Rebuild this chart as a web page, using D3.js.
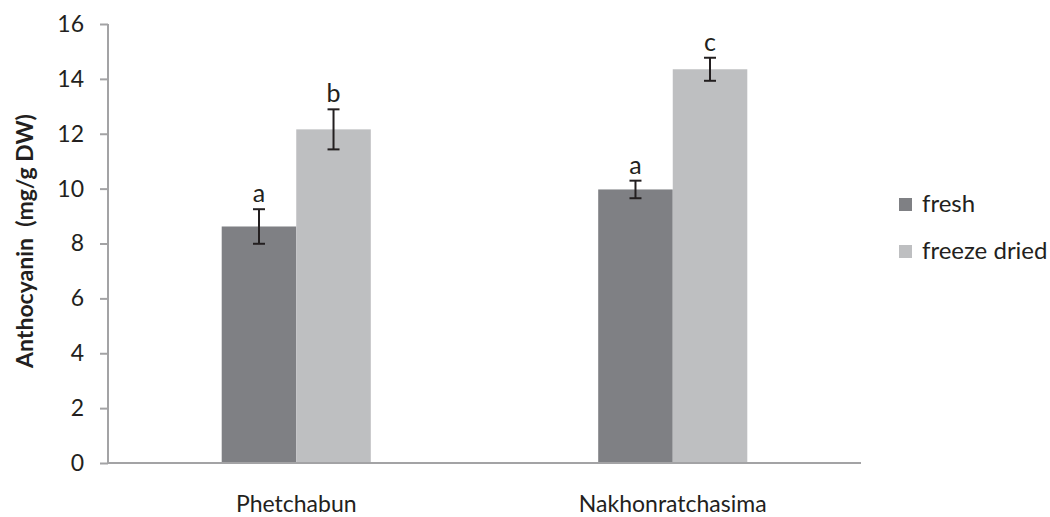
<!DOCTYPE html>
<html>
<head>
<meta charset="utf-8">
<script src="https://cdn.jsdelivr.net/npm/d3@7"></script>
<style>
  html, body { margin: 0; padding: 0; background: #fff; }
  svg { display: block; font-family: Lato, "Open Sans", sans-serif; }
</style>
</head>
<body>
<svg id="chart" width="1050" height="517"></svg>
<script>
// Anthocyanin content by province and sample treatment
const categories = ["Phetchabun", "Nakhonratchasima"];
const seriesNames = ["fresh", "freeze dried"];
const freshValues = [8.62, 9.97];
const freshErrors = [0.63, 0.32];
const freezeDriedValues = [12.16, 14.35];
const freezeDriedErrors = [0.73, 0.42];
const freshLetters = ["a", "a"];
const freezeDriedLetters = ["b", "c"];
const yTicks = [0, 2, 4, 6, 8, 10, 12, 14, 16];

const colors = { "fresh": "#7f8084", "freeze dried": "#bebfc1" };
const ink = "#231f20";
const axisGrey = "#a3a3a5";

const rows = [];
categories.forEach((c, i) => {
  rows.push({ cat: c, series: "fresh", value: freshValues[i], err: freshErrors[i], letter: freshLetters[i] });
  rows.push({ cat: c, series: "freeze dried", value: freezeDriedValues[i], err: freezeDriedErrors[i], letter: freezeDriedLetters[i] });
});

const svg = d3.select("#chart");
const plot = { left: 108, right: 861, top: 24, bottom: 463 };

const y = d3.scaleLinear().domain([0, 16]).range([plot.bottom, plot.top]);
const x0 = d3.scaleBand().domain(categories).range([plot.left, plot.right])
  .paddingInner(0.604).paddingOuter(0.302);
const x1 = d3.scaleBand().domain(seriesNames).range([0, x0.bandwidth()]);

// bars
svg.append("g").selectAll("rect").data(rows).join("rect")
  .attr("x", d => x0(d.cat) + x1(d.series))
  .attr("y", d => y(d.value))
  .attr("width", x1.bandwidth())
  .attr("height", d => y(0) - y(d.value))
  .attr("fill", d => colors[d.series]);

// error bars
const eb = svg.append("g").attr("stroke", ink).attr("stroke-width", 2);
rows.forEach(d => {
  const cx = x0(d.cat) + x1(d.series) + x1.bandwidth() / 2;
  eb.append("line").attr("x1", cx).attr("x2", cx).attr("y1", y(d.value + d.err)).attr("y2", y(d.value - d.err));
  eb.append("line").attr("x1", cx - 6).attr("x2", cx + 6).attr("y1", y(d.value + d.err)).attr("y2", y(d.value + d.err));
  eb.append("line").attr("x1", cx - 6).attr("x2", cx + 6).attr("y1", y(d.value - d.err)).attr("y2", y(d.value - d.err));
});

// significance letters
svg.append("g").selectAll("text").data(rows).join("text")
  .attr("x", d => x0(d.cat) + x1(d.series) + x1.bandwidth() / 2)
  .attr("y", d => y(d.value + d.err) - 7)
  .attr("text-anchor", "middle")
  .attr("font-size", 25)
  .attr("fill", ink)
  .text(d => d.letter);

// y axis
const yAxis = svg.append("g").attr("transform", `translate(${plot.left},0)`)
  .call(d3.axisLeft(y).tickValues(yTicks).tickSize(8).tickPadding(16).tickFormat(d3.format("d")));
yAxis.select(".domain").attr("stroke", axisGrey).attr("stroke-width", 2).attr("d", `M0,${plot.top}V${plot.bottom}`);
yAxis.selectAll(".tick line").attr("stroke", axisGrey).attr("stroke-width", 2);
yAxis.selectAll(".tick text").attr("font-size", 23).attr("fill", ink).attr("font-family", "Lato, sans-serif");

// x axis baseline and category labels
const xAxis = svg.append("g").attr("transform", `translate(0,${plot.bottom})`)
  .call(d3.axisBottom(x0).tickSize(0).tickPadding(0));
xAxis.select(".domain").attr("stroke", axisGrey).attr("stroke-width", 2).attr("d", `M${plot.left},0H${plot.right}`);
xAxis.selectAll(".tick text").attr("font-size", 23).attr("fill", ink).attr("font-family", "Lato, sans-serif")
  .attr("dy", null).attr("y", 49);

// y axis title
svg.append("text")
  .attr("transform", "translate(33,241) rotate(-90)")
  .attr("text-anchor", "middle")
  .attr("font-size", 23)
  .attr("font-weight", "bold")
  .attr("fill", ink)
  .attr("xml:space", "preserve")
  .text("Anthocyanin  (mg/g DW)");

// legend
const legend = svg.append("g").selectAll("g").data(seriesNames).join("g")
  .attr("transform", (d, i) => `translate(899,${198 + i * 47})`);
legend.append("rect").attr("width", 13).attr("height", 13).attr("fill", d => colors[d]);
legend.append("text").attr("x", 23).attr("y", 14).attr("font-size", 24).attr("fill", ink).text(d => d);
</script>
</body>
</html>
